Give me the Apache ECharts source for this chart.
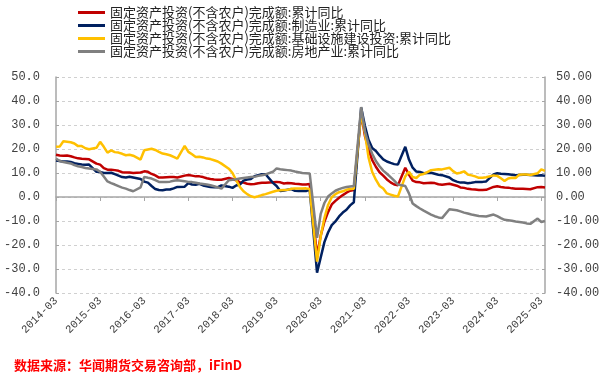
<!DOCTYPE html>
<html><head><meta charset="utf-8">
<script src="https://cdn.jsdelivr.net/npm/echarts@6/dist/echarts.min.js"></script>
<style>html,body{margin:0;padding:0;background:#fff}#c{width:605px;height:377px}</style>
</head><body><div id="c"></div>
<script>
// Monthly categories 2014-03 .. 2025-04 (January has no data: null)
const categories = [];
for (let y = 2014; y <= 2025; y++) {
  for (let m = 1; m <= 12; m++) {
    if (y === 2014 && m < 3) continue;
    if (y === 2025 && m > 4) continue;
    categories.push(y + '-' + (m < 10 ? '0' + m : m));
  }
}
const tickLabels = ['2014-03','2015-03','2016-03','2017-03','2018-03','2019-03','2020-03','2021-03','2022-03','2023-03','2024-03','2025-03'];
const seriesNames = [
  '固定资产投资(不含农户)完成额:累计同比',
  '固定资产投资(不含农户)完成额:制造业:累计同比',
  '固定资产投资(不含农户)完成额:基础设施建设投资:累计同比',
  '固定资产投资(不含农户)完成额:房地产业:累计同比'
];
const total = [
  17.6,17.3,17.2,17.3,17.0,16.5,16.1,15.9,15.8,15.7,
  null,13.9,13.5,12.0,11.4,11.4,11.2,10.9,10.3,10.2,10.2,10.0,
  null,10.2,10.7,10.5,9.6,9.0,8.1,8.1,8.2,8.3,8.3,8.1,
  null,8.9,9.2,8.9,8.6,8.6,8.3,7.8,7.5,7.3,7.2,7.2,
  null,7.9,7.5,7.0,6.1,6.0,5.5,5.3,5.4,5.7,5.9,5.9,
  null,6.1,6.3,6.1,5.6,5.8,5.7,5.5,5.4,5.2,5.2,5.4,
  null,-24.5,-16.1,-10.3,-6.3,-3.1,-1.6,-0.3,0.8,1.8,2.6,2.9,
  null,35.0,25.6,19.9,15.4,12.6,10.3,8.9,7.3,6.1,5.2,4.9,
  null,12.2,9.3,6.8,6.2,6.1,5.7,5.8,5.9,5.8,5.3,5.1,
  null,5.5,5.1,4.7,4.0,3.8,3.4,3.2,3.1,2.9,2.9,3.0,
  null,4.2,4.5,4.2,4.0,3.9,3.6,3.4,3.4,3.4,3.3,3.2,
  null,4.1,4.2,4.0
];
const manufacturing = [
  15.2,15.0,14.8,14.8,14.6,14.1,13.8,13.5,13.4,13.5,
  null,10.5,10.4,10.0,10.0,10.1,9.5,8.9,8.3,8.1,8.4,8.1,
  null,7.5,6.4,6.0,4.6,3.3,2.9,2.8,3.1,3.1,3.6,4.2,
  null,4.3,5.8,5.2,5.1,5.5,4.8,4.5,4.2,4.1,4.1,4.8,
  null,4.3,3.8,4.8,5.2,6.8,7.3,7.5,8.7,9.1,9.5,9.5,
  null,5.9,4.6,2.5,2.7,3.0,3.3,2.6,2.5,2.6,2.5,3.1,
  null,-31.5,-25.2,-18.8,-14.8,-11.7,-10.2,-8.1,-6.5,-5.3,-3.5,-2.2,
  null,37.3,29.8,23.8,20.4,19.2,17.3,15.7,14.8,14.2,13.7,13.5,
  null,20.9,15.6,12.2,10.6,10.4,9.9,10.0,10.1,9.7,9.3,9.1,
  null,8.1,7.0,6.4,6.0,6.0,5.7,5.9,6.2,6.2,6.3,6.5,
  null,9.4,9.9,9.7,9.6,9.5,9.3,9.1,9.2,9.3,9.3,9.2,
  null,9.0,9.1,8.8
];
const infrastructure = [
  20.9,21.0,23.2,23.0,22.8,22.3,21.2,21.2,20.3,19.9,
  null,20.5,23.0,20.9,18.5,19.4,18.7,18.5,18.0,17.4,17.6,17.2,
  null,15.6,19.5,19.8,20.1,19.6,18.8,18.1,17.8,17.4,16.7,16.0,
  null,21.3,18.8,17.8,16.7,16.8,16.5,16.0,15.8,15.3,14.8,13.9,
  null,11.8,10.0,7.0,4.2,2.4,1.2,0.3,-0.1,0.3,0.8,1.2,
  null,2.2,2.6,2.8,2.9,3.0,3.4,3.5,3.5,3.5,3.6,3.3,
  null,-26.9,-16.4,-8.8,-3.3,-0.1,1.2,2.0,2.4,3.0,3.3,3.4,
  null,35.0,26.9,16.5,10.4,7.2,4.6,3.5,1.5,1.0,0.5,0.2,
  null,8.6,10.5,8.3,7.9,9.3,9.6,10.4,11.2,11.4,11.6,11.5,
  null,12.2,10.8,9.8,10.1,10.7,9.4,9.0,8.6,8.0,8.0,8.2,
  null,9.0,8.8,7.8,6.7,7.7,8.0,7.9,9.3,9.4,9.4,9.2,
  null,9.9,11.5,10.9
];
const realEstate = [
  16.0,15.0,14.6,14.3,14.0,13.3,12.8,12.5,12.1,11.9,
  null,11.5,10.5,8.5,6.5,5.8,5.2,4.5,3.9,3.5,2.9,2.4,
  null,4.0,8.4,8.0,7.7,7.0,6.3,6.2,6.3,6.4,6.8,7.0,
  null,6.6,6.3,6.2,5.9,5.6,5.4,5.2,4.9,4.5,4.0,3.5,
  null,7.0,7.2,7.4,7.7,7.9,8.1,8.3,8.4,8.8,9.1,9.4,
  null,10.5,11.9,11.6,11.4,11.2,11.0,10.6,10.3,10.0,9.9,9.8,
  null,-17.0,-7.0,-2.5,0.2,1.5,2.6,3.3,3.8,4.2,4.4,4.6,
  null,37.5,27.5,22.0,18.0,15.0,12.8,11.0,9.7,8.3,6.8,5.2,
  null,4.6,1.5,-2.7,-3.8,-4.8,-5.7,-6.5,-7.3,-8.0,-8.5,-8.8,
  null,-5.1,-5.3,-5.5,-6.0,-6.5,-6.9,-7.3,-7.6,-7.9,-8.0,-8.1,
  null,-7.3,-8.0,-8.8,-9.5,-9.7,-9.9,-10.2,-10.4,-10.6,-11.0,-11.2,
  null,-9.0,-10.4,-10.0
];
const colors = ['#C00000', '#002060', '#FFC000', '#808080'];
const sourceText = '数据来源：华闻期货交易咨询部，iFinD';

const chart = echarts.init(document.getElementById('c'), null, {renderer: 'canvas'});
const valuesList = [total, manufacturing, infrastructure, realEstate];
const axisFont = 'Liberation Mono';
chart.setOption({
  animation: false,
  backgroundColor: '#fff',
  color: colors,
  grid: {left: 56, right: 60, top: 77, bottom: 84, containLabel: false},
  legend: {
    orient: 'vertical', left: 73, top: 1, itemGap: 0,
    icon: 'rect', itemWidth: 27, itemHeight: 3,
    textStyle: {fontFamily: 'Noto Sans CJK SC', fontSize: 13, color: '#222', lineHeight: 12.7},
    data: seriesNames
  },
  xAxis: {
    type: 'category', data: categories, boundaryGap: false,
    axisLine: {lineStyle: {color: '#A6A6A6', width: 1.5}},
    axisTick: {show: true, interval: 11, length: 4, lineStyle: {color: '#A6A6A6'}},
    axisLabel: {
      interval: 11, rotate: 45, margin: 6,
      fontFamily: axisFont, fontSize: 11, color: '#404040',
      formatter: v => tickLabels.indexOf(v) >= 0 ? v : ''
    },
    splitLine: {show: false}
  },
  yAxis: [
    {
      type: 'value', min: -40, max: 50, interval: 10, position: 'left',
      axisLine: {show: true, lineStyle: {color: '#A6A6A6', width: 1.5}},
      axisTick: {show: true, inside: true, length: 3, lineStyle: {color: '#A6A6A6'}},
      axisLabel: {margin: 16, fontFamily: axisFont, fontSize: 12, color: '#404040', formatter: v => v.toFixed(1)},
      splitLine: {show: true, lineStyle: {color: '#D0D0D0', type: [3, 3], width: 1}}
    },
    {
      type: 'value', min: -40, max: 50, interval: 10, position: 'right',
      axisLine: {show: true, lineStyle: {color: '#A6A6A6', width: 1.5}},
      axisTick: {show: true, inside: true, length: 3, lineStyle: {color: '#A6A6A6'}},
      axisLabel: {margin: 11, fontFamily: axisFont, fontSize: 12, color: '#404040', formatter: v => v.toFixed(2)},
      splitLine: {show: false}
    }
  ],
  series: seriesNames.map((name, i) => ({
    name: name, type: 'line', yAxisIndex: 0, data: valuesList[i],
    showSymbol: false, symbol: 'none', connectNulls: true,
    lineStyle: {width: 2.5, color: colors[i]},
    itemStyle: {color: colors[i]}
  })),
  graphic: [{
    type: 'text', left: 14, top: 359,
    style: {text: sourceText, fill: '#FF0000', font: 'bold 13px "Noto Sans CJK SC"'}
  }]
});
</script>
</body></html>
